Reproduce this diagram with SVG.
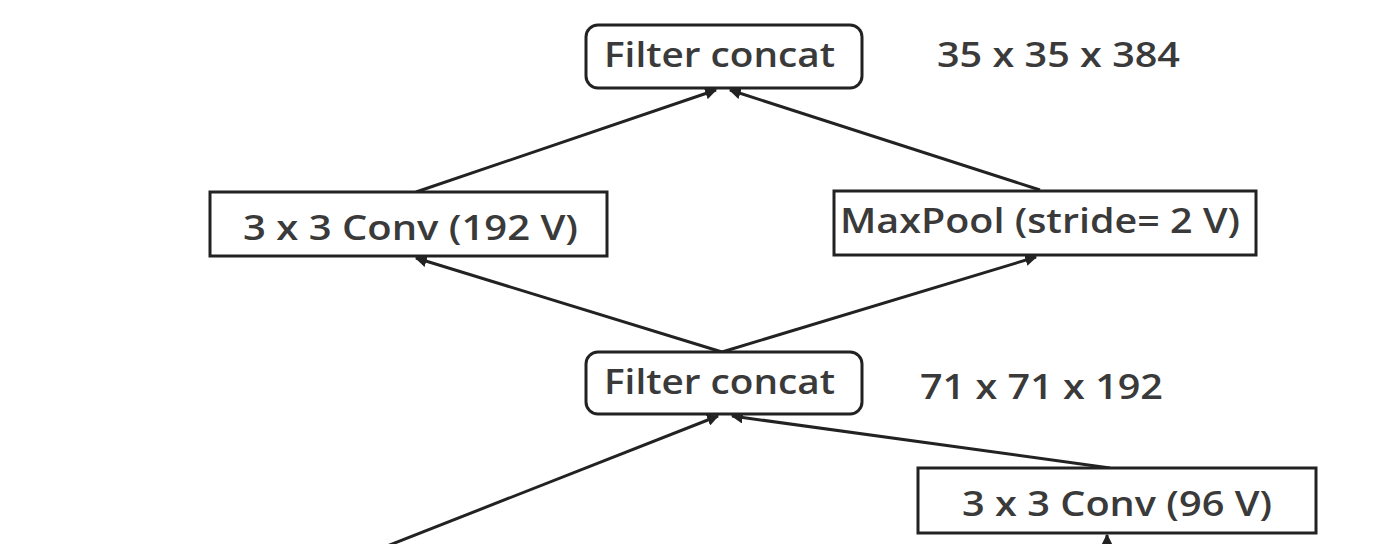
<svg xmlns="http://www.w3.org/2000/svg" width="1374" height="544" viewBox="0 0 1374 544">
<style>
.box{fill:#fff;stroke:#222;stroke-width:3}
.t{font-family:"Open Sans","Noto Sans","DejaVu Sans",sans-serif;font-size:34px;font-weight:600;fill:#3a3a3a;text-anchor:middle}
.l{font-family:"Open Sans","Noto Sans","DejaVu Sans",sans-serif;font-size:34px;font-weight:600;fill:#3a3a3a}
.c{stroke:#222;stroke-width:3;fill:none;marker-end:url(#a)}
</style>
<defs>
<marker id="a" viewBox="0 0 10 10" refX="9" refY="5" markerWidth="4" markerHeight="4" orient="auto" markerUnits="strokeWidth">
<path d="M0,0 L10,5 L0,10 z" fill="#222"/>
</marker>
</defs>
<rect width="1374" height="544" fill="#fff"/>
<g id="connectors">
<line class="c" x1="416" y1="192" x2="716" y2="90"/>
<line class="c" x1="1040" y1="190" x2="730" y2="90"/>
<line class="c" x1="722" y1="352" x2="416" y2="258"/>
<line class="c" x1="722" y1="352" x2="1036" y2="257"/>
<line class="c" x1="382" y1="548" x2="718" y2="416"/>
<line class="c" x1="1110" y1="468" x2="732" y2="416"/>
<line class="c" x1="1107" y1="548" x2="1107" y2="535"/>
</g>
<g id="concat-top">
<rect class="box" x="586" y="25" width="276" height="63" rx="12"/>
<text class="t" x="719.5" y="67" textLength="231" lengthAdjust="spacingAndGlyphs">Filter concat</text>
</g>
<text id="dim-top" class="l" x="937" y="67" textLength="243" lengthAdjust="spacingAndGlyphs">35 x 35 x 384</text>
<g id="conv192">
<rect class="box" x="210" y="192" width="397" height="64"/>
<text class="t" x="410.5" y="240" textLength="335" lengthAdjust="spacingAndGlyphs">3 x 3 Conv (192 V)</text>
</g>
<g id="maxpool">
<rect class="box" x="834" y="191" width="422" height="64"/>
<text class="t" x="1040" y="233" textLength="400" lengthAdjust="spacingAndGlyphs">MaxPool (stride= 2 V)</text>
</g>
<g id="concat-mid">
<rect class="box" x="586" y="352" width="276" height="62" rx="12"/>
<text class="t" x="719.5" y="394" textLength="231" lengthAdjust="spacingAndGlyphs">Filter concat</text>
</g>
<text id="dim-mid" class="l" x="920" y="399" textLength="243" lengthAdjust="spacingAndGlyphs">71 x 71 x 192</text>
<g id="conv96">
<rect class="box" x="918" y="468" width="398" height="65"/>
<text class="t" x="1117" y="516" textLength="310" lengthAdjust="spacingAndGlyphs">3 x 3 Conv (96 V)</text>
</g>
</svg>
